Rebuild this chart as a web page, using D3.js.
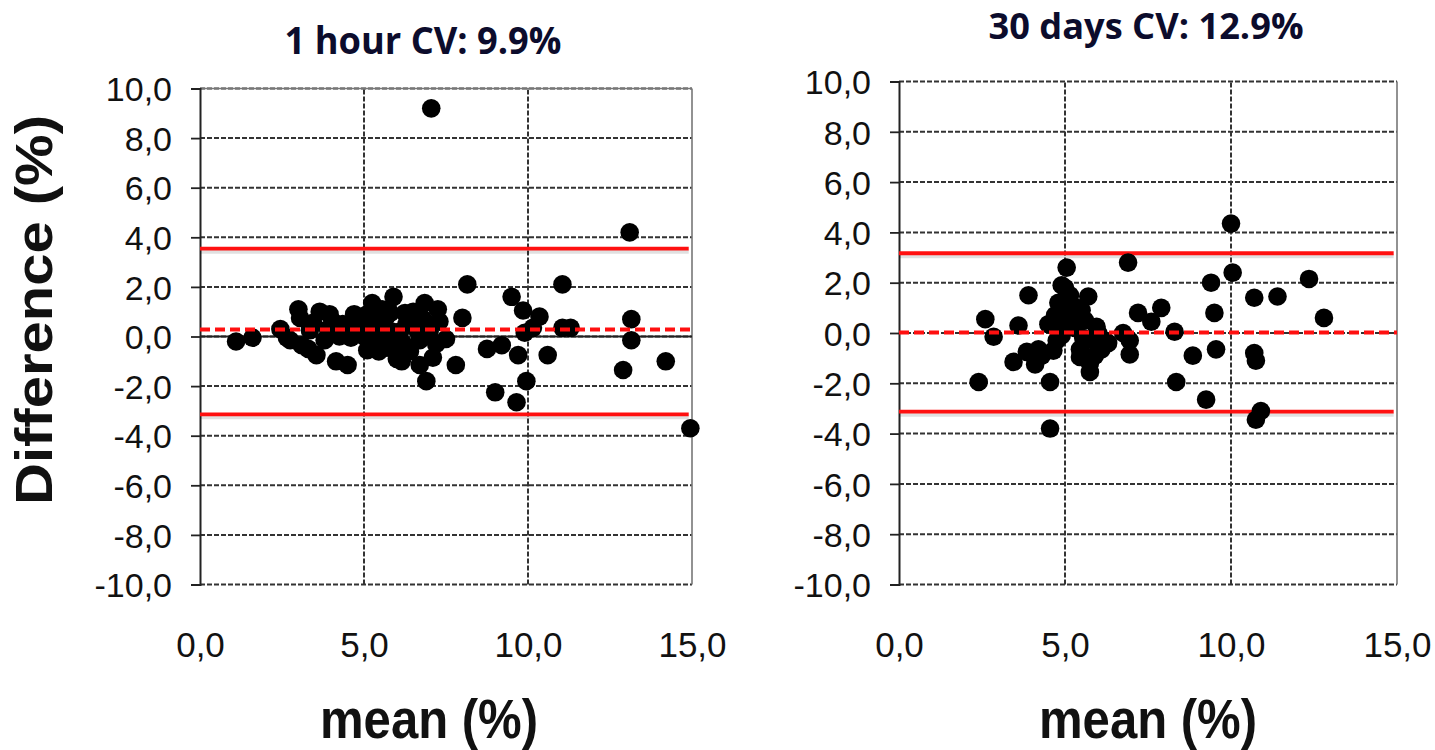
<!DOCTYPE html>
<html>
<head>
<meta charset="utf-8">
<script src="https://cdn.jsdelivr.net/npm/d3@7"></script>
<style>
  body { margin: 0; background: #fff; }
  text { font-family: "Liberation Sans", Arial, sans-serif; }
  .title { font-family: "Open Sans", sans-serif; font-weight: bold; fill: #0c0c2c; }
</style>
</head>
<body>
<div id="chart"></div>
<script>
// values
var hourMean = [1.1, 1.6, 2.45, 2.65, 2.75, 3.0, 3.05, 3.1, 3.35, 3.55, 3.65, 3.8, 3.95, 4.05, 4.15, 4.35, 4.5, 4.6, 4.7, 4.9,
  5.1, 5.1, 5.25, 5.3, 5.4, 5.5, 5.6, 5.7, 5.8, 5.9, 6.0, 6.1, 6.2, 6.3, 6.5, 6.6, 6.7, 6.7, 6.85, 6.9,
  7.05, 7.1, 7.25, 7.3, 7.5, 7.8, 8.0, 8.15, 8.75, 9.0, 9.2, 9.5, 9.7, 9.65, 9.85, 9.9, 9.95, 10.15, 10.35, 10.6,
  11.05, 11.05, 11.3, 12.9, 13.1, 13.15, 13.15, 14.2, 14.95,
  3.3, 3.45, 3.9, 4.25, 4.45, 4.8, 5.0, 5.2, 5.45, 5.55, 5.65, 5.85, 6.05, 6.15, 6.25, 6.4, 6.55, 6.8, 7.0, 7.2];
var hourDiff = [-0.2, -0.05, 0.3, -0.05, -0.15, 1.1, 0.75, -0.35, 0.25, -0.75, 1.0, -0.15, 0.9, 0.6, -1.0, 0.5, -1.15, -0.05, 0.9, 0.3,
  0.9, -0.55, 1.35, 0.2, -0.2, 0.5, 0.0, -0.45, 0.95, 1.6, -0.9, 0.2, -0.3, 0.5, 1.0, 0.3, -0.15, -1.15, 1.35, -1.8,
  9.2, -0.85, 1.1, 0.6, -0.1, -1.15, 0.75, 2.1, -0.5, -2.25, -0.35, 1.6, -0.75, -2.65, 1.05, 0.15, -1.8, 0.35, 0.8, -0.75,
  2.1, 0.35, 0.35, -1.35, 4.2, 0.7, -0.15, -1.0, -3.7,
  -0.5, 0.55, 0.3, 0.0, 0.25, 0.6, 0.0, 0.45, -0.6, 1.1, 0.75, 0.2, -0.4, -1.0, 0.95, -0.6, 0.55, 0.7, 0.2, -0.3];

var dayMean = [2.4, 2.6, 2.85, 3.45, 3.6, 3.9, 3.85, 4.1, 4.2, 4.55, 4.55, 4.5, 4.65, 4.75, 4.7, 4.85, 4.9, 4.95, 5.05, 5.0,
  5.15, 5.3, 5.45, 5.5, 5.45, 5.7, 5.75, 5.75, 5.95, 6.1, 6.2, 6.75, 6.9, 6.95, 6.95, 7.2, 7.6, 7.9, 8.3, 8.35,
  8.85, 9.25, 9.4, 9.5, 9.55, 10.0, 10.05, 10.7, 10.7, 10.75, 10.9, 10.75, 11.4, 12.35, 12.8,
  4.3, 4.8, 4.9, 5.0, 5.2, 5.35, 5.55, 5.6, 5.85, 5.9, 6.0, 6.3];
var dayDiff = [-1.95, 0.55, -0.15, -1.15, 0.3, 1.5, -0.75, -1.25, -0.65, -1.95, -3.8, 0.35, -0.7, -0.3, 0.7, 0.45, 1.9, 0.65, 2.6, 1.8,
  1.5, 0.2, -0.95, 0.9, -0.65, 1.45, -1.2, -1.55, 0.25, -0.65, -0.3, 0.0, 2.8, -0.85, -0.3, 0.8, 0.45, 1.0, 0.05, -1.95,
  -0.9, -2.65, 2.0, 0.8, -0.65, 4.35, 2.4, 1.4, -0.8, -1.1, -3.1, -3.45, 1.45, 2.15, 0.6,
  -0.9, 1.2, -0.1, 0.9, 0.6, 1.0, -0.2, 0.5, -0.3, -0.9, 0.0, -0.4];

// upper limit, mean bias, lower limit
var hourLimits = [3.54, 0.28, -3.14];
var dayLimits = [3.17, 0.02, -3.13];

var titles = ["1 hour CV: 9.9%", "30 days CV: 12.9%"];
var xTicks = [0, 5, 10, 15];
var yTicks = [-10, -8, -6, -4, -2, 0, 2, 4, 6, 8, 10];

var fmt = d3.formatLocale({decimal: ",", thousands: ".", grouping: [3], currency: ["", ""], minus: "-"}).format(".1f");

var svg = d3.select("#chart").append("svg")
  .attr("width", 1435)
  .attr("height", 750);

var panels = [
  {mean: hourMean, diff: hourDiff, lim: hourLimits, title: titles[0], box: [200, 692, 88.5, 584.5],
   tx: 423, ty: 54, tfs: 37, tlen: 277, zeroSolid: true, ylabel: true, cx: 429},
  {mean: dayMean, diff: dayDiff, lim: dayLimits, title: titles[1], box: [899, 1397, 81.5, 584.5],
   tx: 1146, ty: 39, tfs: 36, tlen: 315, zeroSolid: false, ylabel: false, cx: 1148}
];

panels.forEach(drawPanel);

function drawPanel(p) {
  var x = d3.scaleLinear().domain([0, 15]).range([p.box[0], p.box[1]]);
  var y = d3.scaleLinear().domain([-10, 10]).range([p.box[3], p.box[2]]);
  var g = svg.append("g");

  // grid
  g.selectAll(".hgrid").data(yTicks).enter().append("line")
    .attr("x1", x(0)).attr("x2", x(15))
    .attr("y1", function(d) { return y(d); }).attr("y2", function(d) { return y(d); })
    .attr("stroke", "#333").attr("stroke-width", 2).attr("stroke-dasharray", "5,2");
  g.selectAll(".vgrid").data([5, 10]).enter().append("line")
    .attr("x1", function(d) { return x(d); }).attr("x2", function(d) { return x(d); })
    .attr("y1", y(-10)).attr("y2", y(10))
    .attr("stroke", "#333").attr("stroke-width", 2).attr("stroke-dasharray", "5,2");

  // right border
  g.append("line").attr("x1", x(15)).attr("x2", x(15)).attr("y1", y(-10)).attr("y2", y(10))
    .attr("stroke", "#777").attr("stroke-width", 1.6);
  if (p.zeroSolid) {
    g.append("line").attr("x1", x(15)).attr("x2", x(0)).attr("y1", y(10)).attr("y2", y(10))
      .attr("stroke", "#777").attr("stroke-width", 1.6);
    g.append("line").attr("x1", x(0)).attr("x2", x(15)).attr("y1", y(0)).attr("y2", y(0))
      .attr("stroke", "#222").attr("stroke-width", 1.8);
  }

  // y axis with outward ticks
  var ax = g.append("g")
    .attr("transform", "translate(" + x(0) + ",0)")
    .call(d3.axisLeft(y).tickValues(yTicks).tickSize(9).tickFormat(fmt).tickPadding(19));
  ax.attr("font-family", null);
  ax.select(".domain").attr("stroke", "#222").attr("stroke-width", 2);
  ax.selectAll(".tick line").attr("stroke", "#222").attr("stroke-width", 1.8);
  ax.selectAll(".tick text").attr("font-size", 34).attr("fill", "#111").attr("dy", "0.36em");

  // x tick labels (no tick marks, bottom is a dashed grid line)
  var bx = g.append("g")
    .attr("transform", "translate(0," + y(-10) + ")")
    .call(d3.axisBottom(x).tickValues(xTicks).tickSize(0).tickFormat(fmt).tickPadding(48));
  bx.attr("font-family", null);
  bx.select(".domain").remove();
  bx.selectAll(".tick text").attr("font-size", 35).attr("fill", "#111");

  // limits of agreement
  var limG = g.append("g");
  [p.lim[0], p.lim[2]].forEach(function(v) {
    limG.append("line").attr("x1", x(0)).attr("x2", x(14.9)).attr("y1", y(v) + 3).attr("y2", y(v) + 3)
      .attr("stroke", "#000").attr("stroke-opacity", 0.12).attr("stroke-width", 4);
    limG.append("line").attr("x1", x(0)).attr("x2", x(14.9)).attr("y1", y(v)).attr("y2", y(v))
      .attr("stroke", "#ff1010").attr("stroke-width", 3.8);
  });

  // points
  g.append("g").selectAll("circle").data(p.mean).enter().append("circle")
    .attr("cx", function(d) { return x(d); })
    .attr("cy", function(d, i) { return y(p.diff[i]); })
    .attr("r", 9.3)
    .attr("fill", "#000");

  // mean bias
  g.append("line").attr("x1", x(0)).attr("x2", x(15)).attr("y1", y(p.lim[1])).attr("y2", y(p.lim[1]))
    .attr("stroke", "#ff1010").attr("stroke-width", 4).attr("stroke-dasharray", "10,5");

  // titles
  svg.append("text").attr("class", "title")
    .attr("x", p.tx).attr("y", p.ty)
    .attr("text-anchor", "middle")
    .attr("font-size", p.tfs)
    .attr("textLength", p.tlen).attr("lengthAdjust", "spacingAndGlyphs")
    .text(p.title);

  svg.append("text")
    .attr("x", p.cx).attr("y", 738)
    .attr("text-anchor", "middle")
    .attr("font-size", 56).attr("font-weight", "bold").attr("fill", "#111")
    .attr("textLength", 218).attr("lengthAdjust", "spacingAndGlyphs")
    .text("mean (%)");

  if (p.ylabel) {
    svg.append("text")
      .attr("transform", "translate(52,310) rotate(-90)")
      .attr("text-anchor", "middle")
      .attr("font-size", 52).attr("font-weight", "bold").attr("fill", "#111")
      .attr("textLength", 390).attr("lengthAdjust", "spacingAndGlyphs")
      .text("Difference (%)");
  }
}
</script>
</body>
</html>
